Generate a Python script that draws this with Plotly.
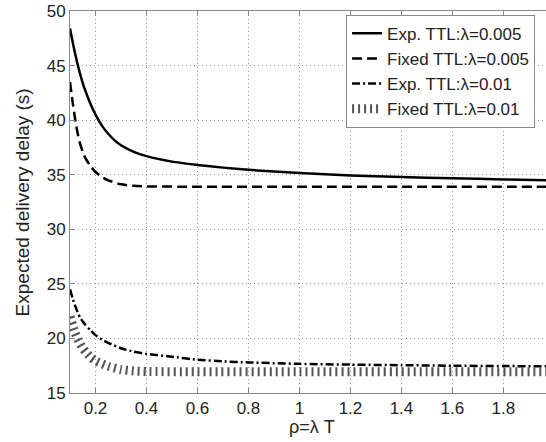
import plotly.graph_objects as go

# ---- data ----
x_exp005 = [0.1, 0.11, 0.12, 0.13, 0.14, 0.15, 0.16, 0.18, 0.2, 0.225, 0.25, 0.275, 0.3, 0.35, 0.4,
            0.5, 0.6, 0.7, 0.8, 0.9, 1.0, 1.2, 1.4, 1.6, 1.8, 2.0]
y_exp005 = [48.4, 47.2, 46.1, 45.1, 44.2, 43.4, 42.7, 41.5, 40.5, 39.5, 38.75, 38.15, 37.7, 37.1, 36.7,
            36.2, 35.9, 35.65, 35.45, 35.3, 35.15, 34.93, 34.78, 34.67, 34.57, 34.47]

x_fix005 = [0.1, 0.11, 0.12, 0.13, 0.14, 0.15, 0.16, 0.18, 0.2, 0.225, 0.25, 0.3, 0.35, 0.4, 0.6, 1.0, 1.5, 2.0]
y_fix005 = [43.5, 41.7, 40.1, 38.8, 37.8, 37.1, 36.55, 35.8, 35.25, 34.8, 34.48, 34.12, 33.98, 33.93,
            33.9, 33.9, 33.9, 33.9]

x_exp01 = [0.1, 0.11, 0.12, 0.13, 0.14, 0.15, 0.16, 0.18, 0.2, 0.225, 0.25, 0.3, 0.35, 0.4,
           0.5, 0.6, 0.7, 0.8, 1.0, 1.2, 1.4, 1.6, 1.8, 2.0]
y_exp01 = [24.5, 23.7, 23.0, 22.4, 21.9, 21.55, 21.25, 20.75, 20.3, 19.9, 19.6, 19.1, 18.78, 18.58,
           18.32, 18.05, 17.9, 17.8, 17.67, 17.6, 17.55, 17.5, 17.47, 17.44]

x_fix01 = [0.1, 0.11, 0.12, 0.13, 0.14, 0.15, 0.16, 0.18, 0.2, 0.25, 0.3, 0.35, 0.4, 0.6, 1.0, 1.5, 2.0]
y_fix01 = [22.0, 21.2, 20.5, 19.95, 19.5, 19.1, 18.8, 18.3, 17.95, 17.45, 17.15, 17.02, 16.97,
           16.95, 16.95, 16.95, 16.95]

series_names = ["Exp. TTL:λ=0.005", "Fixed TTL:λ=0.005", "Exp. TTL:λ=0.01", "Fixed TTL:λ=0.01"]

x_tickvals = [0.2, 0.4, 0.6, 0.8, 1.0, 1.2, 1.4, 1.6, 1.8]
x_ticktext = ["0.2", "0.4", "0.6", "0.8", "1", "1.2", "1.4", "1.6", "1.8"]
y_tickvals = [15, 20, 25, 30, 35, 40, 45, 50]

FONT = "Liberation Sans, Arial, sans-serif"

fig = go.Figure()
fig.add_trace(go.Scatter(x=x_exp005, y=y_exp005, name=series_names[0], mode="lines",
                         line=dict(color="black", width=2.5, shape="spline", smoothing=0.5)))
fig.add_trace(go.Scatter(x=x_fix005, y=y_fix005, name=series_names[1], mode="lines",
                         line=dict(color="black", width=2.5, dash="10px,5px", shape="spline", smoothing=0.5)))
fig.add_trace(go.Scatter(x=x_exp01, y=y_exp01, name=series_names[2], mode="lines",
                         line=dict(color="black", width=2.5, dash="8px,3px,2px,3px", shape="spline", smoothing=0.5)))
fig.add_trace(go.Scatter(x=x_fix01, y=y_fix01, name=series_names[3], mode="lines",
                         line=dict(color="#555555", width=9, dash="2px,4px", shape="spline", smoothing=0.5)))

fig.update_layout(
    width=546, height=442,
    margin=dict(l=70, r=0, t=11, b=49),
    paper_bgcolor="white", plot_bgcolor="white",
    font=dict(family=FONT, size=17, color="#222"),
    showlegend=True,
    legend=dict(x=0.58, y=0.99, xanchor="left", yanchor="top",
                bgcolor="white", bordercolor="#888", borderwidth=1,
                font=dict(family=FONT, size=17, color="#222"),
                tracegroupgap=0),
    xaxis=dict(range=[0.1, 1.967], tickvals=x_tickvals, ticktext=x_ticktext,
               showgrid=True, gridcolor="#999999", griddash="1px,3px", gridwidth=1,
               showline=True, linecolor="#888", linewidth=1, mirror="ticks",
               ticks="inside", ticklen=5, tickcolor="#888", zeroline=False),
    yaxis=dict(range=[15, 50], tickvals=y_tickvals,
               showgrid=True, gridcolor="#999999", griddash="1px,3px", gridwidth=1,
               showline=True, linecolor="#888", linewidth=1, mirror=False,
               ticks="inside", ticklen=5, tickcolor="#888", zeroline=False),
    annotations=[
        dict(text="ρ=λ T", xref="paper", yref="paper", x=0.508, y=-0.088,
             xanchor="center", yanchor="middle", showarrow=False,
             font=dict(family=FONT, size=18, color="#222")),
        dict(text="Expected delivery delay (s)", xref="paper", yref="paper",
             x=-0.1, y=0.5, xanchor="center", yanchor="middle", textangle=-90,
             showarrow=False, font=dict(family=FONT, size=19, color="#222")),
    ],
)

fig.write_html("out.html", config={"displayModeBar": False},
               post_script="document.body.style.margin='0';")
